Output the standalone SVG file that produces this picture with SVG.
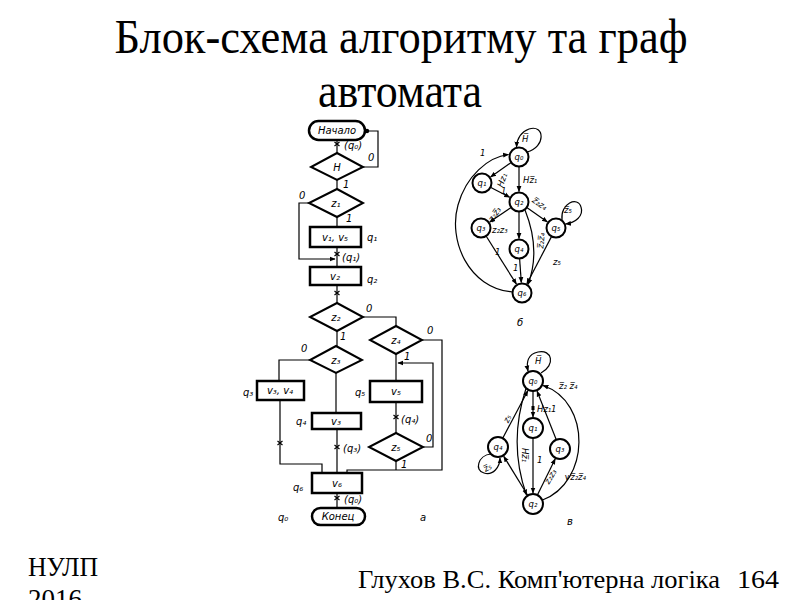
<svg xmlns="http://www.w3.org/2000/svg" width="800" height="600" viewBox="0 0 800 600">
<style>
.title{font-family:"Liberation Serif",serif;font-size:48px;fill:#000}
.foot{font-family:"Liberation Serif",serif;fill:#000}
.fl{font-family:"DejaVu Sans",sans-serif;font-style:italic;font-size:10px;fill:#000}
.gl{font-family:"DejaVu Sans",sans-serif;font-style:italic;font-size:8.5px;fill:#000}
.box{fill:#fff;stroke:#000;stroke-width:2.5}
.dia{fill:#fff;stroke:#000;stroke-width:2}
.ln{fill:none;stroke:#000;stroke-width:1.2}
.st{fill:#fff;stroke:#000;stroke-width:2}
</style>
<defs>
<marker id="ar" viewBox="0 0 10 10" refX="9" refY="5" markerWidth="6" markerHeight="6" markerUnits="userSpaceOnUse" orient="auto"><path d="M0,1 L10,5 L0,9 z" fill="#000"/></marker>
<path id="xm" d="M-2.5,-2 L2.5,2 M2.5,-2 L-2.5,2" stroke="#000" stroke-width="1.2" fill="none"/>
</defs>
<rect width="800" height="600" fill="#fff"/>

<g id="title">
<text class="title" x="401" y="53" text-anchor="middle" textLength="573" lengthAdjust="spacingAndGlyphs">Блок-схема алгоритму та граф</text>
<text class="title" x="400" y="107" text-anchor="middle" textLength="164" lengthAdjust="spacingAndGlyphs">автомата</text>
</g>
<g id="footer">
<text class="foot" x="28" y="576" font-size="27" textLength="70" lengthAdjust="spacingAndGlyphs">НУЛП</text>
<text class="foot" x="28" y="608" font-size="27">2016</text>
<text class="foot" x="358" y="588" font-size="25" textLength="362" lengthAdjust="spacingAndGlyphs">Глухов В.С. Комп'ютерна логіка</text>
<text class="foot" x="737" y="588" font-size="25" textLength="42" lengthAdjust="spacingAndGlyphs">164</text>
</g>

<!-- Flowchart connectors -->
<g id="flow-connectors" class="ln">
<path d="M337,140 V153"/>
<path d="M363,167 H378 V131 H367"/>
<path d="M337,180 V189"/>
<path d="M337,217 V227"/>
<path d="M309,203 H299 V259 H335" marker-end="url(#ar)"/>
<path d="M337,247 V267"/>
<path d="M337,285 V303"/>
<path d="M337,331 V346"/>
<path d="M363,317 H396 V326"/>
<path d="M310,360 H279 V381"/>
<path d="M336,373 V413"/>
<path d="M396,354 V381"/>
<path d="M422,340 H442 V470 H347 V473"/>
<path d="M280,400 V464 H322 V473"/>
<path d="M337,429 V473"/>
<path d="M396,402 V433"/>
<path d="M423,447 H433 V363 H398" marker-end="url(#ar)"/>
<path d="M396,461 V470"/>
<path d="M337,493 V508"/>
</g>
<g id="flow-marks">
<circle cx="367" cy="131" r="2.2" fill="#000"/>
<use href="#xm" x="337" y="144"/>
<use href="#xm" x="337" y="254"/>
<use href="#xm" x="337" y="293"/>
<use href="#xm" x="280" y="443"/>
<use href="#xm" x="337" y="447"/>
<use href="#xm" x="396" y="417"/>
<use href="#xm" x="337" y="498"/>
<text class="fl" x="344" y="149">(q₀)</text>
<text class="fl" x="368" y="161">0</text>
<text class="fl" x="343" y="188">1</text>
<text class="fl" x="299" y="199">0</text>
<text class="fl" x="346" y="222">1</text>
<text class="fl" x="342" y="261">(q₁)</text>
<text class="fl" x="366" y="312">0</text>
<text class="fl" x="340" y="340">1</text>
<text class="fl" x="301" y="352">0</text>
<text class="fl" x="427" y="334">0</text>
<text class="fl" x="404" y="360">1</text>
<text class="fl" x="426" y="442">0</text>
<text class="fl" x="401" y="468">1</text>
<text class="fl" x="401" y="423">(q₄)</text>
<text class="fl" x="343" y="452">(q₃)</text>
<text class="fl" x="344" y="503">(q₀)</text>
</g>

<!-- Flowchart nodes -->
<g id="n-start"><rect class="box" x="309" y="121" width="56" height="19" rx="9.5"/><text class="fl" x="337" y="134" font-size="9" text-anchor="middle">Начало</text></g>
<g id="n-H"><polygon class="dia" points="337,153 363,167 337,180 311,167"/><text class="fl" x="337" y="171" text-anchor="middle">H</text></g>
<g id="n-z1"><polygon class="dia" points="337,189 363,203 337,217 309,203"/><text class="fl" x="336" y="207" text-anchor="middle">z₁</text></g>
<g id="n-q1"><rect class="box" x="310" y="227" width="51" height="20"/><text class="fl" x="335" y="241" text-anchor="middle">v₁, v₅</text><text class="fl" x="367" y="241">q₁</text></g>
<g id="n-q2"><rect class="box" x="310" y="267" width="51" height="18"/><text class="fl" x="335" y="280" text-anchor="middle">v₂</text><text class="fl" x="367" y="283">q₂</text></g>
<g id="n-z2"><polygon class="dia" points="337,303 363,317 337,331 310,317"/><text class="fl" x="336" y="321" text-anchor="middle">z₂</text></g>
<g id="n-z4"><polygon class="dia" points="396,326 422,340 396,354 370,340"/><text class="fl" x="396" y="344" text-anchor="middle">z₄</text></g>
<g id="n-z3"><polygon class="dia" points="336,346 362,360 336,373 310,360"/><text class="fl" x="336" y="364" text-anchor="middle">z₃</text></g>
<g id="n-q3"><rect class="box" x="257" y="381" width="47" height="19"/><text class="fl" x="280" y="394" text-anchor="middle">v₃, v₄</text><text class="fl" x="243" y="396">q₃</text></g>
<g id="n-q5"><rect class="box" x="370" y="381" width="52" height="21"/><text class="fl" x="396" y="395" text-anchor="middle">v₅</text><text class="fl" x="355" y="396">q₅</text></g>
<g id="n-q4"><rect class="box" x="312" y="413" width="49" height="16"/><text class="fl" x="336" y="425" text-anchor="middle">v₃</text><text class="fl" x="296" y="425">q₄</text></g>
<g id="n-z5"><polygon class="dia" points="396,433 423,447 396,461 369,447"/><text class="fl" x="396" y="451" text-anchor="middle">z₅</text></g>
<g id="n-q6"><rect class="box" x="312" y="473" width="50" height="20"/><text class="fl" x="337" y="487" text-anchor="middle">v₆</text><text class="fl" x="293" y="491">q₆</text></g>
<g id="n-end"><rect class="box" x="312" y="508" width="53" height="17" rx="8.5"/><text class="fl" x="338" y="520" font-size="9" text-anchor="middle">Конец</text><text class="fl" x="278" y="521">q₀</text></g>
<text class="fl" x="420" y="521" font-size="11">а</text>

<!-- Graph b connectors -->
<g id="gb-connectors" class="ln">
<path d="M511.2,162.5 L490.6,177" marker-end="url(#ar)"/>
<path d="M519,167 V191.5" marker-end="url(#ar)"/>
<path d="M490.4,187.3 L509.7,197.2" marker-end="url(#ar)"/>
<path d="M511.2,207.4 L489.7,222.1" marker-end="url(#ar)"/>
<path d="M519,211.5 V238.5" marker-end="url(#ar)"/>
<path d="M526.8,207.5 L547.4,222" marker-end="url(#ar)"/>
<path d="M525,210 Q541,250 528,284.5" marker-end="url(#ar)"/>
<path d="M486.1,236 L516.4,284.1" marker-end="url(#ar)"/>
<path d="M519.6,258.5 L521.3,282.5" marker-end="url(#ar)"/>
<path d="M551.6,236.4 L526.9,283.7" marker-end="url(#ar)"/>
<path d="M512.5,292 C468,288 448,240 458,205 C466,176 488,157 508.5,154.5" marker-end="url(#ar)"/>
<path d="M527,152 C546,147 545,124 529,129 C521,132 517,139 516.5,147" marker-end="url(#ar)"/>
<path d="M562,220 C560,203 578,196 581,207 C584,216 575,223 565.5,224" marker-end="url(#ar)"/>
</g>
<g id="gb-labels">
<text class="gl" x="522" y="142">H̅</text>
<text class="gl" x="480" y="156">1</text>
<text class="gl" transform="translate(505,181) rotate(-70)" text-anchor="middle">Hz₁</text>
<text class="gl" x="523" y="183">Hz̅₁</text>
<text class="gl" x="501" y="194">1</text>
<text class="gl" transform="translate(497,216) rotate(-55)" text-anchor="middle">z₂z̅₃</text>
<text class="gl" x="492" y="233">z₂z₃</text>
<text class="gl" transform="translate(538,206) rotate(35)" text-anchor="middle">z̅₂z₄</text>
<text class="gl" transform="translate(544,241) rotate(-85)" text-anchor="middle">z̅₂z̅₄</text>
<text class="gl" x="495" y="255">1</text>
<text class="gl" x="513" y="271">1</text>
<text class="gl" x="553" y="265">z₅</text>
<text class="gl" x="564" y="213">z̅₅</text>
<text class="fl" x="517" y="326" font-size="11">б</text>
</g>
<g id="gb-nodes">
<g id="b-q0"><circle class="st" cx="519" cy="157" r="9.5"/><text class="gl" x="519" y="160" text-anchor="middle">q₀</text></g>
<g id="b-q1"><circle class="st" cx="482" cy="183" r="9.5"/><text class="gl" x="482" y="186" text-anchor="middle">q₁</text></g>
<g id="b-q2"><circle class="st" cx="519" cy="202" r="9.5"/><text class="gl" x="519" y="205" text-anchor="middle">q₂</text></g>
<g id="b-q3"><circle class="st" cx="481" cy="228" r="9.5"/><text class="gl" x="481" y="231" text-anchor="middle">q₃</text></g>
<g id="b-q4"><circle class="st" cx="519" cy="249" r="9.5"/><text class="gl" x="519" y="252" text-anchor="middle">q₄</text></g>
<g id="b-q5"><circle class="st" cx="556" cy="228" r="9.5"/><text class="gl" x="556" y="231" text-anchor="middle">q₅</text></g>
<g id="b-q6"><circle class="st" cx="522" cy="293" r="9.5"/><text class="gl" x="522" y="296" text-anchor="middle">q₆</text></g>
</g>

<!-- Graph v connectors -->
<g id="gv-connectors" class="ln">
<path d="M533,391 V417" marker-end="url(#ar)"/>
<path d="M556.3,439.7 L537.1,391.2" marker-end="url(#ar)"/>
<path d="M533,438 V493" marker-end="url(#ar)"/>
<path d="M526,388.5 Q508,443 526.5,495" marker-end="url(#ar)"/>
<path d="M502.7,438.2 L527.8,390.7" marker-end="url(#ar)"/>
<path d="M527.8,495.5 L503.8,456.4" marker-end="url(#ar)"/>
<path d="M537.4,495 L555.2,458.9" marker-end="url(#ar)"/>
<path d="M542.5,500 C590,482 592,402 543,385.5" marker-end="url(#ar)"/>
<path d="M541,373 C556,365 552,349 538,352 C528,354 526,362 528,371" marker-end="url(#ar)"/>
<path d="M491,454 C478,455 474,471 484,473 C493,476 500,467 500,458" marker-end="url(#ar)"/>
</g>
<g id="gv-labels">
<rect x="531.5" y="406" width="3" height="4" fill="#000"/>
<text class="gl" x="535" y="364">H̅</text>
<text class="gl" x="537" y="412">Hz₁</text>
<text class="gl" x="551" y="412">1</text>
<text class="gl" transform="translate(522,455) rotate(90)" text-anchor="middle">Hz̅₁</text>
<text class="gl" x="537" y="463">1</text>
<text class="gl" transform="translate(510,420) rotate(-65)" text-anchor="middle">z₅</text>
<text class="gl" transform="translate(489,470) rotate(-30)" text-anchor="middle">z̅₅</text>
<text class="gl" x="559" y="389">z̅₂ z̅₄</text>
<text class="gl" transform="translate(553,478) rotate(-60)" text-anchor="middle">z₂z₃</text>
<text class="gl" x="564" y="480">∨z̅₂z̅₄</text>
<text class="fl" x="567" y="525" font-size="11">в</text>
</g>
<g id="gv-nodes">
<g id="v-q0"><circle class="st" cx="533" cy="381" r="10"/><text class="gl" x="533" y="384" text-anchor="middle">q₀</text></g>
<g id="v-q1"><circle class="st" cx="533" cy="428" r="10"/><text class="gl" x="533" y="431" text-anchor="middle">q₁</text></g>
<g id="v-q2"><circle class="st" cx="533" cy="504" r="10"/><text class="gl" x="533" y="507" text-anchor="middle">q₂</text></g>
<g id="v-q3"><circle class="st" cx="560" cy="449" r="10"/><text class="gl" x="560" y="452" text-anchor="middle">q₃</text></g>
<g id="v-q4"><circle class="st" cx="498" cy="447" r="10"/><text class="gl" x="498" y="450" text-anchor="middle">q₄</text></g>
</g>
</svg>
